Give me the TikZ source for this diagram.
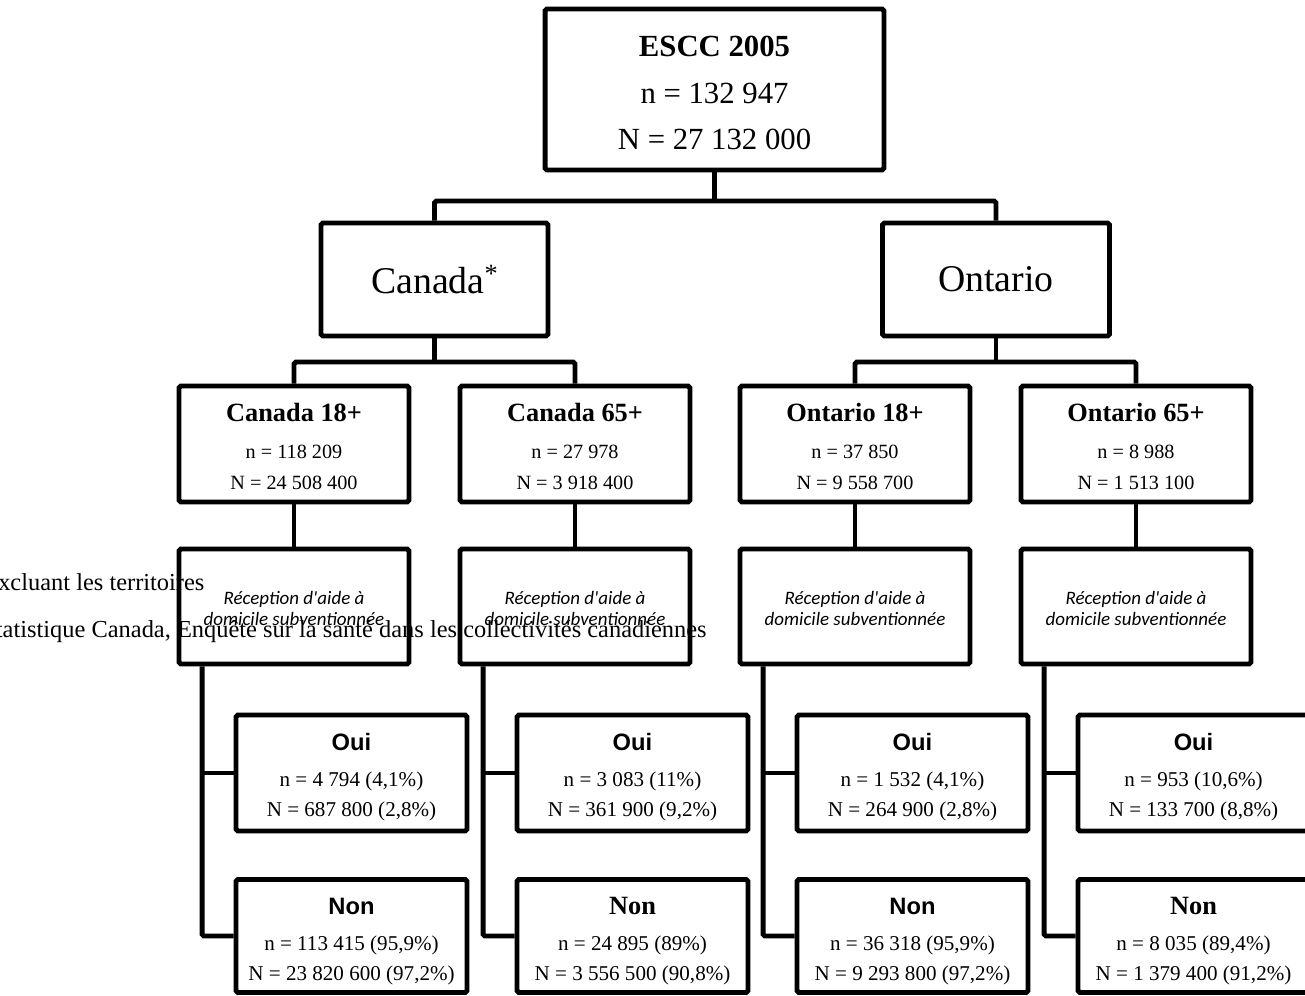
\documentclass[tikz,border=0pt]{standalone}
\usepackage{fontspec}
\setmainfont{Liberation Serif}
\newfontfamily\arialfont{Liberation Sans}
\newfontfamily\calibrifont{Carlito}
\newcommand\sanshead[1]{{\arialfont\fontsize{13.5}{15}\selectfont\bfseries #1}}
\newcommand\serifhead[1]{{\fontsize{15}{17}\selectfont\bfseries #1}}
\begin{document}
\begin{tikzpicture}[x=0.02cm,y=-0.02cm,
    box/.style={draw,line width=2.8pt,rounded corners=1pt,align=center,inner sep=0pt},
    link/.style={line width=2.8pt,rounded corners=1pt}]
    \useasboundingbox (0,0) rectangle (1305,995);

    % notes that sit behind the boxes
    \node[anchor=base west,inner sep=0pt,font=\fontsize{13.9}{16}\selectfont]
    (note1) at (-17,590) {Excluant les territoires};
    \node[anchor=base west,inner sep=0pt,font=\fontsize{13.9}{16}\selectfont]
    (note2) at (-18,637) {Statistique Canada, Enquête sur la santé dans les collectivités canadiennes};

    \node[box,minimum width=6.78cm,minimum height=3.22cm,
    font=\fontsize{17.5}{26.5}\selectfont]
    (escc) at (714.5,89.5) {\rule{0pt}{16pt}\textbf{ESCC 2005}\\n = 132 947\\N = 27 132 000};

    \foreach \n/\x/\t in
    {can/434.5/Canada{\fontsize{15}{15}\selectfont\raisebox{6pt}{*}},ont/996/Ontario}
    {\node[box,minimum width=4.54cm,minimum height=2.26cm,
    font=\fontsize{21.5}{26}\selectfont]
    (\n) at (\x,279.5) {\t};}

    \foreach \i/\x/\t/\a/\b in
    {1/294/Canada 18+/118 209/24 508 400,
     2/575/Canada 65+/27 978/3 918 400,
     3/855/Ontario 18+/37 850/9 558 700,
     4/1136/Ontario 65+/8 988/1 513 100}
    {\node[box,minimum width=4.6cm,minimum height=2.32cm,
    font=\fontsize{11.5}{17.5}\selectfont]
    (grp\i) at (\x,444) {\rule{0pt}{13pt}\serifhead{\t}\\[4pt]n = \a\\N = \b};
     \node[box,minimum width=4.6cm,minimum height=2.3cm,
    font=\calibrifont\itshape\fontsize{10.8}{12.2}\selectfont]
    (rec\i) at (\x,606.5) {\rule{0pt}{10pt}Réception d'aide à\\domicile subventionnée};
     \draw[link] (grp\i.south) -- (rec\i.north);}

    \foreach \i/\x/\h/\a/\b/\c/\d in
    {1/351.5/\sanshead/{4 794 (4,1\%)}/{687 800 (2,8\%)}/{113 415 (95,9\%)}/{23 820 600 (97,2\%)},
     2/632.5/\serifhead/{3 083 (11\%)}/{361 900 (9,2\%)}/{24 895 (89\%)}/{3 556 500 (90,8\%)},
     3/912.5/\sanshead/{1 532 (4,1\%)}/{264 900 (2,8\%)}/{36 318 (95,9\%)}/{9 293 800 (97,2\%)},
     4/1193.5/\serifhead/{953 (10,6\%)}/{133 700 (8,8\%)}/{8 035 (89,4\%)}/{1 379 400 (91,2\%)}}
    {\node[box,minimum width=4.62cm,minimum height=2.32cm,
    font=\fontsize{12}{17}\selectfont]
    (oui\i) at (\x,773) {\rule{0pt}{14pt}\sanshead{Oui}\\[3.5pt]n = \a\\N = \b};
     \node[box,minimum width=4.62cm,minimum height=2.26cm,
    font=\fontsize{12}{17.5}\selectfont]
    (non\i) at (\x,936) {\rule{0pt}{16pt}\h{Non}\\[2.5pt]n = \c\\N = \d};
     \coordinate (spine\i) at ([xshift=0.51cm]rec\i.south west);
     \draw[link] (spine\i) |- (non\i.west);
     \draw[link] (oui\i.west) -- (oui\i.west -| spine\i);}

    % top levels
    \coordinate (bus0) at (714.5,201);
    \coordinate (bus1) at (434.5,362);
    \coordinate (bus2) at (996,362);
    \draw[link] (escc.south) -- (bus0);
    \draw[link] (can.north) |- (bus0) -| (ont.north);
    \draw[link] (can.south) -- (bus1);
    \draw[link] (grp1.north) |- (bus1) -| (grp2.north);
    \draw[link] (ont.south) -- (bus2);
    \draw[link] (grp3.north) |- (bus2) -| (grp4.north);
  \end{tikzpicture}
\end{document}
